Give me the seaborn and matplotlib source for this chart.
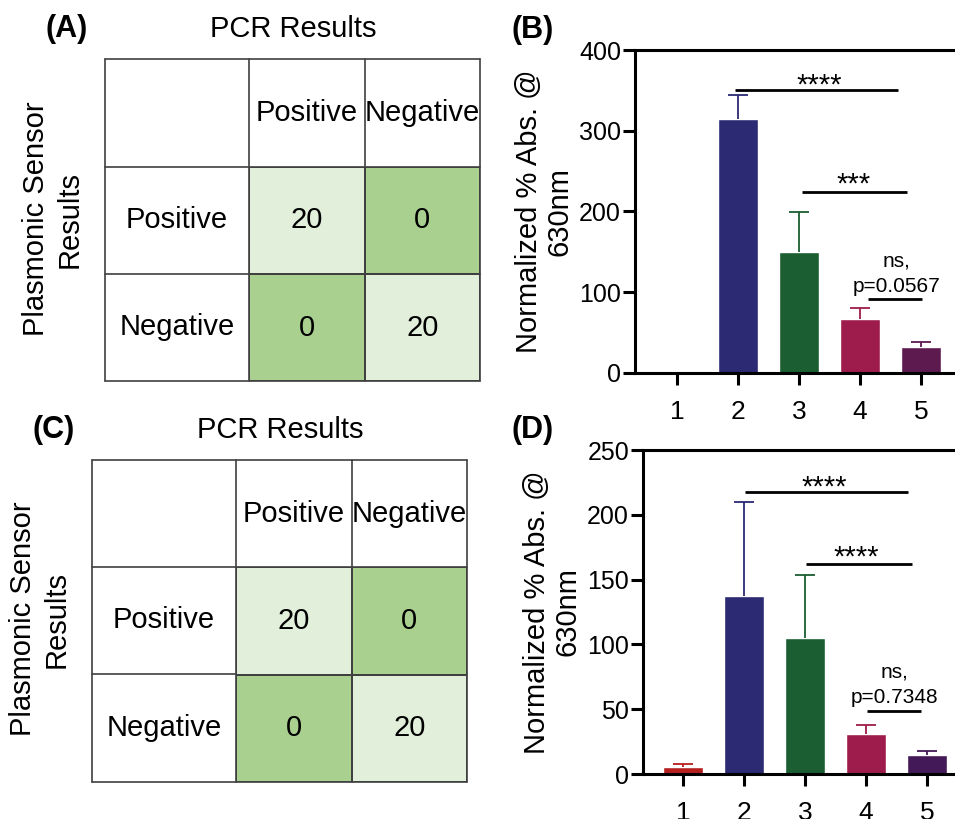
import numpy as np
import pandas as pd
import matplotlib
matplotlib.use("Agg")
import matplotlib.pyplot as plt
from matplotlib.colors import ListedColormap
import seaborn as sns

# Datos
groups = ["1", "2", "3", "4", "5"]
abs_b = [0, 315, 150, 67, 32]
err_b = [0, 29, 49, 13, 6]
abs_d = [5.1, 137.5, 105.3, 30.8, 14.4]
err_d = [2.6, 72, 48, 7.2, 3.3]
colors_b = ["#b5201f", "#2b2a73", "#1a5e31", "#9e1c4b", "#5d1a4f"]
colors_d = ["#b5201f", "#2b2a73", "#1a5e31", "#9e1c4b", "#431a57"]

# Lineas de significancia: (x0, x1, y, etiqueta, x texto, y centro texto)
sig_b = [(0.95, 3.62, 351, "****", 2.33, 366.6),
         (2.05, 3.77, 224, "***", 2.89, 244)]
sig_d = [(1.02, 3.69, 217.4, "****", 2.31, 227.6),
         (2.02, 3.75, 162.4, "****", 2.84, 173.6)]
ns_b = (3.13, 4.02, 91.5, "ns,", "p=0.0567", 3.6, 131.6, 100.7)
ns_d = (3.02, 3.90, 48.8, "ns,", "p=0.7348", 3.46, 74.6, 55.0)

# Tablas de contingencia
pcr_labels = ["Positive", "Negative"]
sensor_labels = ["Positive", "Negative"]
table_a = [[20, 0], [0, 20]]
table_c = [[20, 0], [0, 20]]

sns.set_theme(style="white")
plt.rcParams["font.family"] = ["Liberation Sans", "DejaVu Sans"]
plt.rcParams["text.color"] = "black"
plt.rcParams["axes.labelcolor"] = "black"
plt.rcParams["xtick.color"] = "black"
plt.rcParams["ytick.color"] = "black"

W, H = 955, 819
fig = plt.figure(figsize=(W / 100, H / 100), dpi=100)


def px_axes(x0, y0, x1, y1):
    return fig.add_axes([x0 / W, 1 - y1 / H, (x1 - x0) / W, (y1 - y0) / H])


def draw_table(cols, rows, data, tag, tag_x, title_x):
    # marco completo
    fax = px_axes(cols[0], rows[0], cols[-1], rows[-1])
    fax.set_xlim(cols[0], cols[-1])
    fax.set_ylim(rows[-1], rows[0])
    fax.set_axis_off()
    lc = "#404040"
    for c in cols:
        fax.plot([c, c], [rows[0], rows[-1]], color=lc, lw=1.2, clip_on=False)
    for r in rows:
        fax.plot([cols[0], cols[-1]], [r, r], color=lc, lw=1.2, clip_on=False)
    for i, lab in enumerate(pcr_labels):
        fax.text((cols[i + 1] + cols[i + 2]) / 2, (rows[0] + rows[1]) / 2, lab,
                 ha="center", va="center", fontsize=21)
    for j, lab in enumerate(sensor_labels):
        fax.text((cols[0] + cols[1]) / 2, (rows[j + 1] + rows[j + 2]) / 2, lab,
                 ha="center", va="center", fontsize=21)
    # celdas con valores
    hax = px_axes(cols[1], rows[1], cols[-1], rows[-1])
    sns.heatmap(np.array(data), ax=hax, cmap=ListedColormap(["#a9d08e", "#e2efda"]),
                vmin=0, vmax=20, annot=True, fmt="d", cbar=False,
                linewidths=1.2, linecolor=lc, xticklabels=False, yticklabels=False,
                annot_kws={"size": 21, "color": "black"})
    fig.text(title_x / W, 1 - (rows[0] - 30) / H, "PCR Results", ha="center",
             va="center", fontsize=21)
    fig.text(tag_x / W, 1 - (rows[0] - 30) / H, tag, ha="center", va="center",
             fontsize=22, fontweight="bold")


def draw_bars(ax, vals, errs, colors, sigs, ns, ymax, ystep, xlo):
    df = pd.DataFrame({"grupo": groups, "valor": vals})
    sns.barplot(data=df, x="grupo", y="valor", hue="grupo", palette=colors,
                legend=False, width=0.66, saturation=1, errorbar=None, ax=ax)
    for i, (v, e) in enumerate(zip(vals, errs)):
        if v > 0:
            _, caps, _ = ax.errorbar(i, v, yerr=[[0], [e]], fmt="none", ecolor=colors[i],
                                     elinewidth=1.3, capsize=7, capthick=1.3)
            # solo el capuchon superior
            for c in caps:
                if np.allclose(c.get_ydata(), v):
                    c.set_visible(False)
    for x0, x1, y, lab, tx, ty in sigs:
        ax.plot([x0, x1], [y, y], color="black", lw=2, solid_capstyle="butt")
        ax.annotate(lab, xy=(tx, ty), xytext=(0, -0.57 * 21), textcoords="offset points",
                    ha="center", va="baseline", fontsize=21)
    x0, x1, y, l1, l2, tx, y1, y2 = ns
    ax.plot([x0, x1], [y, y], color="black", lw=2, solid_capstyle="butt")
    ax.text(tx, y1, l1, ha="center", va="baseline", fontsize=15)
    ax.text(tx, y2, l2, ha="center", va="baseline", fontsize=15)
    ax.set_xlim(xlo, 4 - xlo)
    ax.set_ylim(0, ymax)
    ax.set_yticks(np.arange(0, ymax + 1, ystep))
    ax.set_xlabel("")
    ax.set_ylabel("Normalized % Abs. @\n630nm", fontsize=21, linespacing=1.1, labelpad=4)
    for s in ax.spines.values():
        s.set_linewidth(2.2)
        s.set_color("black")
    ax.tick_params(axis="both", direction="out", length=8.5, width=2.2, color="black",
                   left=True, bottom=True)
    ax.tick_params(axis="y", labelsize=18, pad=1.5)
    ax.tick_params(axis="x", labelsize=19, pad=11)


# (A) y (C)
draw_table([105, 249, 364.5, 480], [59, 167, 274, 381], table_a, "(A)", 67, 293)
draw_table([92, 236, 351.5, 467], [460, 567, 674, 782], table_c, "(C)", 54, 280)
fig.text(53 / W, 1 - 219 / H, "Plasmonic Sensor\nResults", rotation=90, ha="center",
         va="center", fontsize=21, linespacing=1.25)
fig.text(40 / W, 1 - 619 / H, "Plasmonic Sensor\nResults", rotation=90, ha="center",
         va="center", fontsize=21, linespacing=1.25)

# (B) y (D)
ax_b = px_axes(635, 50, 963, 373)
draw_bars(ax_b, abs_b, err_b, colors_b, sig_b, ns_b, 400, 100, -0.69)
ax_d = px_axes(643, 450, 967, 774)
draw_bars(ax_d, abs_d, err_d, colors_d, sig_d, ns_d, 250, 50, -0.656)
fig.text(533 / W, 1 - 30 / H, "(B)", ha="center", va="center", fontsize=22,
         fontweight="bold")
fig.text(533 / W, 1 - 430 / H, "(D)", ha="center", va="center", fontsize=22,
         fontweight="bold")

fig.savefig("out.png", dpi=100)
